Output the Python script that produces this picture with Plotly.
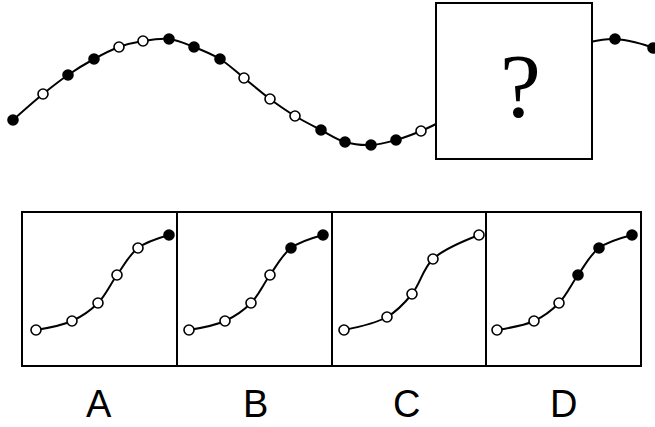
import plotly.graph_objects as go

# Top sequence (left part, before the "?" box); 1 = filled, 0 = open, None = no marker
top_left_x = [13, 43, 68, 94, 119, 143, 169, 194, 220, 244, 270, 295, 321, 345, 371, 396, 421, 438]
top_left_y = [120, 94, 75, 59, 47, 41, 39, 47, 59, 78, 99, 116, 130, 142, 145, 140, 131, 123]
top_left_fill = [1, 0, 1, 1, 0, 0, 1, 1, 1, 0, 0, 0, 1, 1, 1, 1, 0, None]

# Top sequence (right part, after the box)
top_right_x = [590, 615, 653, 665]
top_right_y = [42, 39, 48, 56]
top_right_fill = [None, 1, 1, None]

# Options
opt_labels = ["A", "B", "C", "D"]
opt_label_x = [99, 255, 406, 563]
optA_x = [36, 72, 98, 117, 138, 169]
optA_y = [330, 321, 303, 275, 248, 235]
optA_fill = [0, 0, 0, 0, 0, 1]
optB_x = [189, 225, 251, 270, 291, 323]
optB_y = [330, 321, 303, 275, 248, 235]
optB_fill = [0, 0, 0, 0, 1, 1]
optC_x = [344, 387, 412, 433, 479]
optC_y = [330, 317, 294, 259, 235]
optC_fill = [0, 0, 0, 0, 0]
optD_x = [497, 534, 559, 578, 599, 632]
optD_y = [330, 321, 303, 275, 248, 235]
optD_fill = [0, 0, 0, 1, 1, 1]

box_edges = [22, 177, 332, 486, 641]

fig = go.Figure()


def add_series(xs, ys, fills):
    fig.add_trace(go.Scatter(x=xs, y=ys, mode="lines",
                             line=dict(color="black", width=2, shape="spline"),
                             hoverinfo="skip", showlegend=False))
    mx = [x for x, f in zip(xs, fills) if f is not None]
    my = [y for y, f in zip(ys, fills) if f is not None]
    mc = ["black" if f else "white" for f in fills if f is not None]
    fig.add_trace(go.Scatter(x=mx, y=my, mode="markers",
                             marker=dict(size=10, color=mc,
                                         line=dict(color="black", width=1.6)),
                             cliponaxis=False, hoverinfo="skip", showlegend=False))


add_series(top_left_x, top_left_y, top_left_fill)
add_series(top_right_x, top_right_y, top_right_fill)
add_series(optA_x, optA_y, optA_fill)
add_series(optB_x, optB_y, optB_fill)
add_series(optC_x, optC_y, optC_fill)
add_series(optD_x, optD_y, optD_fill)

shapes = [
    dict(type="rect", x0=436, x1=592, y0=3, y1=159, xref="x", yref="y",
         line=dict(color="black", width=2), fillcolor="white", layer="above"),
    dict(type="rect", x0=box_edges[0], x1=box_edges[-1], y0=212, y1=366,
         xref="x", yref="y", line=dict(color="black", width=2), layer="above"),
]
for xe in box_edges[1:-1]:
    shapes.append(dict(type="line", x0=xe, x1=xe, y0=212, y1=366, xref="x", yref="y",
                       line=dict(color="black", width=2), layer="above"))

annotations = [
    dict(x=520, y=86, xref="x", yref="y", text="?", showarrow=False,
         font=dict(family="Liberation Serif", size=92, color="black"))
]
for lab, lx in zip(opt_labels, opt_label_x):
    annotations.append(dict(x=lx, y=404, xref="x", yref="y", text=lab, showarrow=False,
                            font=dict(family="Liberation Sans", size=38, color="black")))

fig.update_layout(
    width=655, height=427,
    margin=dict(l=0, r=0, t=0, b=0),
    paper_bgcolor="white", plot_bgcolor="white",
    xaxis=dict(range=[0, 655], visible=False, fixedrange=True),
    yaxis=dict(range=[427, 0], visible=False, fixedrange=True),
    shapes=shapes, annotations=annotations,
)

fig.write_html("out.html", config={"displayModeBar": False, "staticPlot": True},
               post_script="document.body.style.margin='0px';document.body.style.overflow='hidden';")
